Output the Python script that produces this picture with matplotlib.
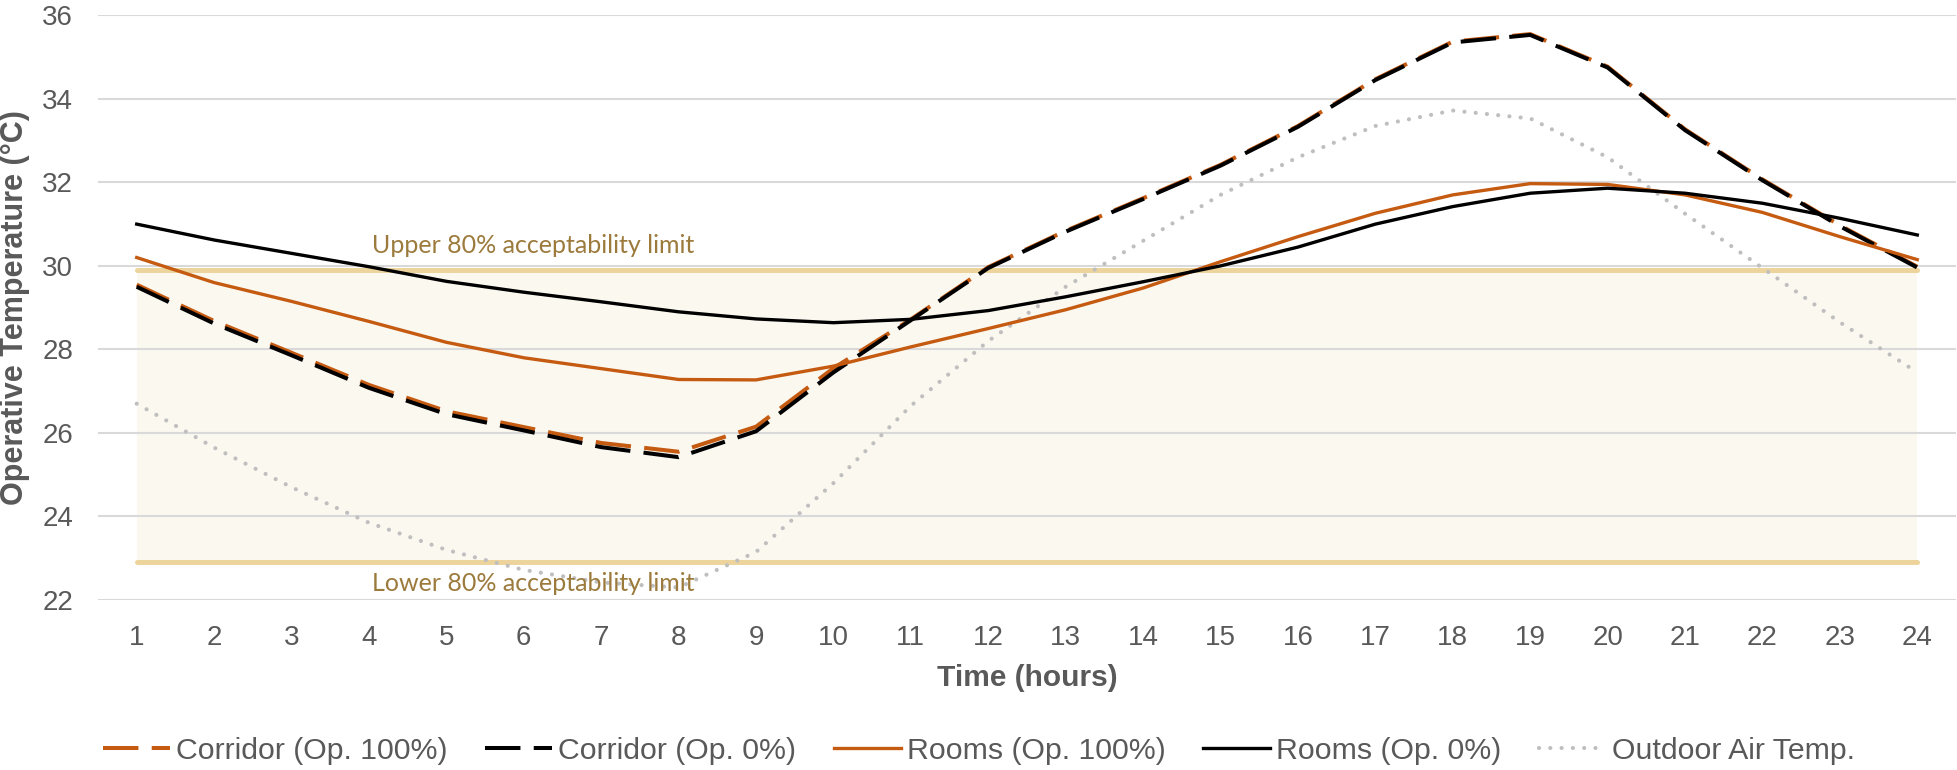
import matplotlib
matplotlib.use("Agg")
import matplotlib.pyplot as plt

hours = list(range(1, 25))
corridor_100 = [29.55, 28.68, 27.92, 27.15, 26.52, 26.14, 25.76, 25.55, 26.15, 27.55, 28.72, 29.97,
                30.84, 31.62, 32.42, 33.35, 34.47, 35.37, 35.55, 34.77, 33.27, 32.07, 30.97, 29.98]
corridor_0 = [29.50, 28.62, 27.86, 27.08, 26.45, 26.06, 25.66, 25.42, 26.04, 27.45, 28.70, 29.95,
              30.82, 31.60, 32.40, 33.33, 34.45, 35.35, 35.53, 34.75, 33.25, 32.05, 30.95, 29.96]
rooms_100 = [30.20, 29.60, 29.15, 28.67, 28.17, 27.80, 27.54, 27.28, 27.27, 27.60, 28.06, 28.50,
             28.95, 29.47, 30.10, 30.70, 31.26, 31.70, 31.97, 31.95, 31.70, 31.28, 30.70, 30.15]
rooms_0 = [31.00, 30.62, 30.30, 29.98, 29.63, 29.37, 29.14, 28.90, 28.73, 28.64, 28.72, 28.93,
           29.26, 29.62, 30.00, 30.45, 31.00, 31.42, 31.74, 31.86, 31.74, 31.50, 31.14, 30.74]
outdoor = [26.70, 25.65, 24.70, 23.85, 23.20, 22.72, 22.42, 22.30, 23.15, 24.80, 26.65, 28.20,
           29.50, 30.60, 31.70, 32.60, 33.35, 33.72, 33.53, 32.60, 31.25, 29.95, 28.65, 27.45]
upper_limit = 29.9
lower_limit = 22.9
y_ticks = [22, 24, 26, 28, 30, 32, 34, 36]

ORANGE = "#C55A11"
BLACK = "#000000"
GREY = "#BFBFBF"
LIMIT = "#ECD49C"
BAND = "#FBF8F0"
TXT = "#595959"
LIMTXT = "#9C7A3C"

fig = plt.figure(figsize=(19.58, 7.70), dpi=100)
ax = fig.add_axes([98 / 1958, 1 - 600 / 770, (1956 - 98) / 1958, (600 - 15.3) / 770])

ax.fill_between([hours[0], hours[-1]], lower_limit, upper_limit, color=BAND, zorder=0.2, lw=0)
for lim in (upper_limit, lower_limit):
    ax.plot([hours[0], hours[-1]], [lim, lim], color=LIMIT, lw=3.6, solid_capstyle="round", zorder=1.6)

dash = (0, (8.8, 3.3))
ax.plot(hours, corridor_100, color=ORANGE, lw=2.9, linestyle=dash, zorder=3, label="Corridor (Op. 100%)")
ax.plot(hours, corridor_0, color=BLACK, lw=2.9, linestyle=dash, zorder=3.1, label="Corridor (Op. 0%)")
ax.plot(hours, rooms_100, color=ORANGE, lw=2.4, zorder=3.2, label="Rooms (Op. 100%)")
ax.plot(hours, rooms_0, color=BLACK, lw=2.4, zorder=3.3, label="Rooms (Op. 0%)")
ax.plot(hours, outdoor, color=GREY, lw=3.0, linestyle=(0, (0.01, 2.7)), dash_capstyle="round",
        zorder=2.9, label="Outdoor Air Temp.")

ax.text(4.04, 30.30, "Upper 80% acceptability limit", color=LIMTXT, fontsize=18,
        family="Lato", va="baseline", ha="left", zorder=4)
ax.text(4.04, 22.22, "Lower 80% acceptability limit", color=LIMTXT, fontsize=18,
        family="Lato", va="baseline", ha="left", zorder=4)

ax.set_xlim(0.5, 24.5)
ax.set_ylim(22, 36)
ax.set_xticks(hours)
ax.set_yticks(y_ticks)
ax.grid(axis="y", color="#D9D9D9", lw=1.5)
ax.set_axisbelow(True)
for s in ax.spines.values():
    s.set_visible(False)
ax.tick_params(length=0, labelsize=20, colors=TXT, pad=18)
for lab in ax.get_xticklabels() + ax.get_yticklabels():
    lab.set_family("Liberation Sans")

ax.set_xlabel("Time (hours)", fontsize=21.5, fontweight="bold", color=TXT, family="Liberation Sans")
ax.xaxis.set_label_coords(0.5, (600 - 678) / 585, transform=None) if False else None
ax.xaxis.label.set_va("center")
ax.xaxis.set_label_coords(0.5, -(678 - 600) / (600 - 15.3))
ax.set_ylabel("Operative Temperature (°C)", fontsize=22, fontweight="bold", color=TXT,
              family="Liberation Sans")
ax.yaxis.label.set_va("center")
ax.yaxis.set_label_coords(-(98 - 15) / (1956 - 98), 0.5)

handles, labels = ax.get_legend_handles_labels()
leg = fig.legend(handles, labels, loc="center", bbox_to_anchor=(0.5, 1 - 751 / 770), ncol=5, frameon=False,
                 handlelength=2.2, handletextpad=0.2, columnspacing=1.25,
                 prop={"family": "Liberation Sans", "size": 21.8})
for t in leg.get_texts():
    t.set_color(TXT)

fig.savefig("out.png", dpi=100)
